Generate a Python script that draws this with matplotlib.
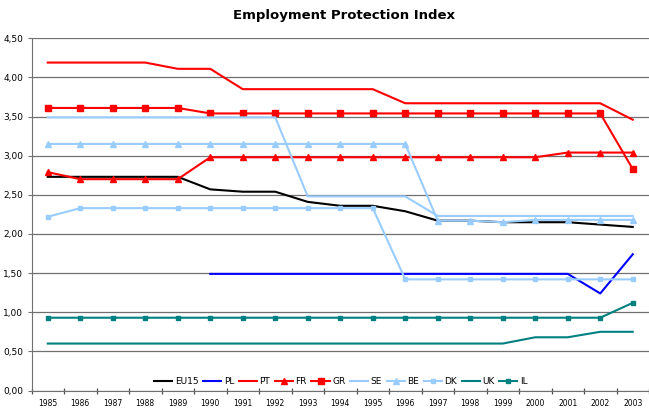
import numpy as np
import matplotlib
matplotlib.use("Agg")
import matplotlib.pyplot as plt
from matplotlib.ticker import FuncFormatter, FixedLocator

years = [str(y) for y in range(1985, 2004)]
nan = np.nan

eu15 = [2.73, 2.73, 2.73, 2.73, 2.73, 2.57, 2.54, 2.54, 2.41, 2.36, 2.36, 2.29, 2.17, 2.17, 2.15, 2.15, 2.15, 2.12, 2.09]
pl = [nan, nan, nan, nan, nan, 1.49, 1.49, 1.49, 1.49, 1.49, 1.49, 1.49, 1.49, 1.49, 1.49, 1.49, 1.49, 1.24, 1.74]
pt = [4.19, 4.19, 4.19, 4.19, 4.11, 4.11, 3.85, 3.85, 3.85, 3.85, 3.85, 3.67, 3.67, 3.67, 3.67, 3.67, 3.67, 3.67, 3.46]
fr = [2.79, 2.70, 2.70, 2.70, 2.70, 2.98, 2.98, 2.98, 2.98, 2.98, 2.98, 2.98, 2.98, 2.98, 2.98, 2.98, 3.04, 3.04, 3.04]
gr = [3.61, 3.61, 3.61, 3.61, 3.61, 3.54, 3.54, 3.54, 3.54, 3.54, 3.54, 3.54, 3.54, 3.54, 3.54, 3.54, 3.54, 3.54, 2.83]
se = [3.49, 3.49, 3.49, 3.49, 3.49, 3.49, 3.49, 3.49, 2.48, 2.48, 2.48, 2.48, 2.23, 2.23, 2.23, 2.23, 2.23, 2.23, 2.23]
be = [3.15, 3.15, 3.15, 3.15, 3.15, 3.15, 3.15, 3.15, 3.15, 3.15, 3.15, 3.15, 2.17, 2.17, 2.15, 2.18, 2.18, 2.18, 2.18]
dk = [2.22, 2.33, 2.33, 2.33, 2.33, 2.33, 2.33, 2.33, 2.33, 2.33, 2.33, 1.42, 1.42, 1.42, 1.42, 1.42, 1.42, 1.42, 1.42]
uk = [0.60, 0.60, 0.60, 0.60, 0.60, 0.60, 0.60, 0.60, 0.60, 0.60, 0.60, 0.60, 0.60, 0.60, 0.60, 0.68, 0.68, 0.75, 0.75]
il = [0.93, 0.93, 0.93, 0.93, 0.93, 0.93, 0.93, 0.93, 0.93, 0.93, 0.93, 0.93, 0.93, 0.93, 0.93, 0.93, 0.93, 0.93, 1.12]

red = "#FF0000"
lblue = "#99CCFF"
teal = "#008080"

fig = plt.figure(figsize=(6.49, 4.08), dpi=100)
ax = fig.add_axes([31.5/649, 1-390.5/408, 1-31.5/649, (390.5-38.3)/408])

x = np.arange(len(years))
lw = 1.5
ax.plot(x, eu15, color="black", lw=lw, label="EU15")
ax.plot(x, pl, color="#0000FF", lw=lw, label="PL")
ax.plot(x, pt, color=red, lw=lw, label="PT")
ax.plot(x, fr, color=red, lw=lw, marker="^", ms=5, label="FR")
ax.plot(x, gr, color=red, lw=lw, marker="s", ms=5, label="GR")
ax.plot(x, se, color=lblue, lw=lw, label="SE")
ax.plot(x, be, color=lblue, lw=lw, marker="^", ms=4, label="BE")
ax.plot(x, dk, color=lblue, lw=lw, marker="s", ms=3.5, label="DK")
ax.plot(x, uk, color=teal, lw=lw, label="UK")
ax.plot(x, il, color=teal, lw=lw, marker="s", ms=3.5, label="IL")

ax.set_xlim(-0.5, len(years) - 0.5)
ax.set_ylim(0, 4.5)
ax.set_yticks(np.arange(0, 4.51, 0.5))
ax.yaxis.set_major_formatter(FuncFormatter(lambda v, p: f"{v:.2f}".replace(".", ",")))
ax.grid(axis="y", color="#707070", lw=0.9)
ax.set_axisbelow(True)

# tick marks between categories, labels centred
ax.xaxis.set_major_locator(FixedLocator(np.arange(-0.5, len(years), 1.0)))
ax.xaxis.set_major_formatter(FuncFormatter(lambda v, p: ""))
ax.set_xticks(x, minor=True)
ax.set_xticklabels(years, minor=True, fontsize=5.5)
ax.tick_params(axis="x", which="major", direction="inout", length=5, color="#505050", width=0.9)
ax.tick_params(axis="x", which="minor", length=0, pad=6)
ax.tick_params(axis="y", length=3, color="#707070", labelsize=6.5, pad=3)

for s in ["top", "right"]:
    ax.spines[s].set_visible(False)
ax.spines["left"].set_color("#707070")
ax.spines["bottom"].set_color("#707070")

ax.legend(ncol=10, loc="center", bbox_to_anchor=((341 - 31.5) / 617.5, 0.025),
          frameon=False, fontsize=6.5, handlelength=2.0, handletextpad=0.3, columnspacing=0.5)

fig.text(344/649, 1-15/408, "Employment Protection Index", ha="center", va="center",
         fontsize=9.5, fontweight="bold")

fig.savefig("out.png", dpi=100)
